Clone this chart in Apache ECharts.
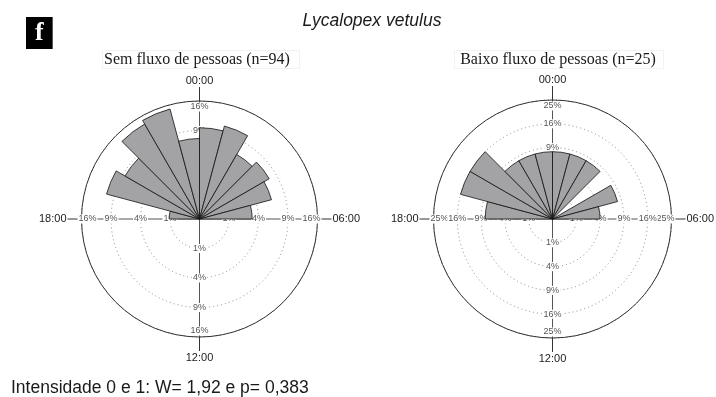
<!DOCTYPE html>
<html>
<head>
<meta charset="utf-8">
<script src="https://cdn.jsdelivr.net/npm/echarts@6/dist/echarts.min.js"></script>
<style>
  html, body { margin: 0; padding: 0; background: #fff; }
  #chart { width: 716px; height: 397px; }
</style>
</head>
<body>
<div id="chart"></div>
<script>
// Hour bins, clockwise from midnight (bin i covers i:00 to i+1:00)
const hours = ['00', '01', '02', '03', '04', '05', '06', '07', '08', '09', '10', '11',
               '12', '13', '14', '15', '16', '17', '18', '19', '20', '21', '22', '23'];

// Share of records (%) per hour bin
const semFluxoPct = [9.57, 10.64, 6.38, 7.45, 6.38, 3.19, 0, 0, 0, 0, 0, 0,
                     0, 0, 0, 0, 0, 0, 1.06, 10.64, 8.51, 13.83, 14.89, 7.45];
const baixoFluxoPct = [8, 8, 8, 0, 8, 4, 0, 0, 0, 0, 0, 0,
                       0, 0, 0, 0, 0, 0, 8, 16, 16, 8, 8, 8];

// Reference rings (%) of each rose
const semFluxoRings = [1, 4, 9, 16];
const baixoFluxoRings = [1, 4, 9, 16, 25];

// Clock labels at the four quarter positions
const hourLabels = ['00:00', '06:00', '12:00', '18:00'];

const panelLetter = 'f';
const speciesName = 'Lycalopex vetulus';
const semFluxoTitle = 'Sem fluxo de pessoas (n=94)';
const baixoFluxoTitle = 'Baixo fluxo de pessoas (n=25)';
const testResult = 'Intensidade 0 e 1: W= 1,92 e p= 0,383';

const SANS = '"Liberation Sans", Arial, sans-serif';
const SERIF = '"Liberation Serif", "Times New Roman", serif';

const option = {
  animation: false,
  backgroundColor: '#fff',
  title: [],
  polar: [],
  angleAxis: [],
  radiusAxis: [],
  series: []
};

let polarCount = 0;
function addPolar(center, radius) {
  option.polar.push({ center: center, radius: radius });
  return polarCount++;
}

// The four arms of the cross that carry ring labels; the outermost label is
// nudged inward so it sits inside the outer circle.
const arms = [
  { start: 90,  outer: t => '{g| }\n{b|' + t + '}' },
  { start: 0,   outer: t => '{b|' + t + '}{w| }' },
  { start: 270, outer: t => '{b|' + t + '}\n{g| }' },
  { start: 180, outer: t => '{w| }{b|' + t + '}' }
];

const ringLabelRich = {
  b: { color: '#555', fontSize: 9, fontFamily: SANS, backgroundColor: '#fff', padding: [0, 1], lineHeight: 10 },
  g: { height: 12, lineHeight: 12, fontSize: 1 },
  w: { width: 12, fontSize: 1 }
};

// Radius is drawn on a square-root scale: ring value p sits at sqrt(p)
function addRose(center, radius, pct, rings) {
  const rMax = Math.sqrt(rings[rings.length - 1]);

  // outer circle, hour ticks/labels, cross and dotted rings
  const f = addPolar(center, radius);
  option.angleAxis.push({
    polarIndex: f, type: 'value', min: 0, max: 24, interval: 6,
    startAngle: 90, clockwise: true, z: 0,
    axisLine: { show: true, lineStyle: { color: '#333', width: 1 } },
    axisTick: { show: true, length: 14, lineStyle: { color: '#333', width: 1 } },
    axisLabel: {
      show: true, margin: 15, color: '#1a1a1a', fontSize: 11, fontFamily: SANS,
      formatter: v => hourLabels[v / 6] || ''
    },
    splitLine: { show: true, lineStyle: { color: '#555', width: 1 } }
  });
  option.radiusAxis.push({
    polarIndex: f, type: 'value', min: 0, max: rMax, interval: 1, z: 0,
    axisLine: { show: false }, axisTick: { show: false }, axisLabel: { show: false },
    splitLine: { show: true, lineStyle: { color: '#8a8a8a', width: 1, type: [1, 3] } }
  });

  // ring labels along each arm: inner rings on one axis, outermost ring on its own
  arms.forEach(arm => {
    [false, true].forEach(outerOnly => {
      const p = addPolar(center, radius);
      option.angleAxis.push({ polarIndex: p, type: 'value', min: 0, max: 360, startAngle: arm.start, show: false });
      option.radiusAxis.push({
        polarIndex: p, type: 'value', min: 0, max: rMax, interval: 1, z: outerOnly ? 1 : 2,
        axisLine: { show: false }, axisTick: { show: false }, splitLine: { show: false },
        axisLabel: {
          show: true, margin: 0, align: 'center', verticalAlign: 'middle',
          showMinLabel: false, showMaxLabel: outerOnly, hideOverlap: false,
          formatter: v => {
            const ring = Math.round(v * v);
            if (rings.indexOf(ring) < 0) return '';
            const isOuter = Math.abs(v - rMax) < 1e-6;
            if (isOuter !== outerOnly) return '';
            const t = ring + '%';
            return isOuter ? arm.outer(t) : '{b|' + t + '}';
          },
          rich: ringLabelRich
        }
      });
    });
  });

  // hourly bars
  const b = addPolar(center, radius);
  option.angleAxis.push({
    polarIndex: b, type: 'category', data: hours, startAngle: 90, clockwise: true,
    boundaryGap: true, show: false
  });
  option.radiusAxis.push({ polarIndex: b, type: 'value', min: 0, max: rMax, show: false });
  option.series.push({
    type: 'bar', coordinateSystem: 'polar', polarIndex: b, z: 3, silent: true,
    barCategoryGap: '0%',
    data: pct.map(v => (v > 0 ? Math.sqrt(v) : '-')),
    itemStyle: { color: '#a3a3a6', borderColor: '#111', borderWidth: 0.8 }
  });
}

addRose([199.5, 219], 118, semFluxoPct, semFluxoRings);
addRose([552.5, 219], 119, baixoFluxoPct, baixoFluxoRings);

option.title = [
  {
    text: panelLetter, left: 26, top: 17, backgroundColor: '#000', padding: [2, 9, 2, 9],
    textStyle: { color: '#fff', fontFamily: SERIF, fontWeight: 'bold', fontSize: 26, lineHeight: 28 }
  },
  {
    text: speciesName, left: 372, top: 12, textAlign: 'center', padding: 0,
    textStyle: { color: '#1a1a1a', fontFamily: SANS, fontStyle: 'italic', fontWeight: 'normal', fontSize: 17.5, lineHeight: 18 }
  },
  {
    text: semFluxoTitle, left: 195, top: 50, textAlign: 'center', padding: [2, 10, 1, 2],
    borderColor: '#f2f2f2', borderWidth: 1,
    textStyle: { color: '#1a1a1a', fontFamily: SERIF, fontWeight: 'normal', fontSize: 16, lineHeight: 16 }
  },
  {
    text: baixoFluxoTitle, left: 552, top: 50, textAlign: 'center', padding: [2, 8, 1, 6],
    borderColor: '#f2f2f2', borderWidth: 1,
    textStyle: { color: '#1a1a1a', fontFamily: SERIF, fontWeight: 'normal', fontSize: 16, lineHeight: 16 }
  },
  {
    text: testResult, left: 11, top: 379, padding: 0,
    textStyle: { color: '#1a1a1a', fontFamily: SANS, fontWeight: 'normal', fontSize: 17.5, lineHeight: 18 }
  }
];

const chart = echarts.init(document.getElementById('chart'), null, { renderer: 'canvas' });
chart.setOption(option);
</script>
</body>
</html>
